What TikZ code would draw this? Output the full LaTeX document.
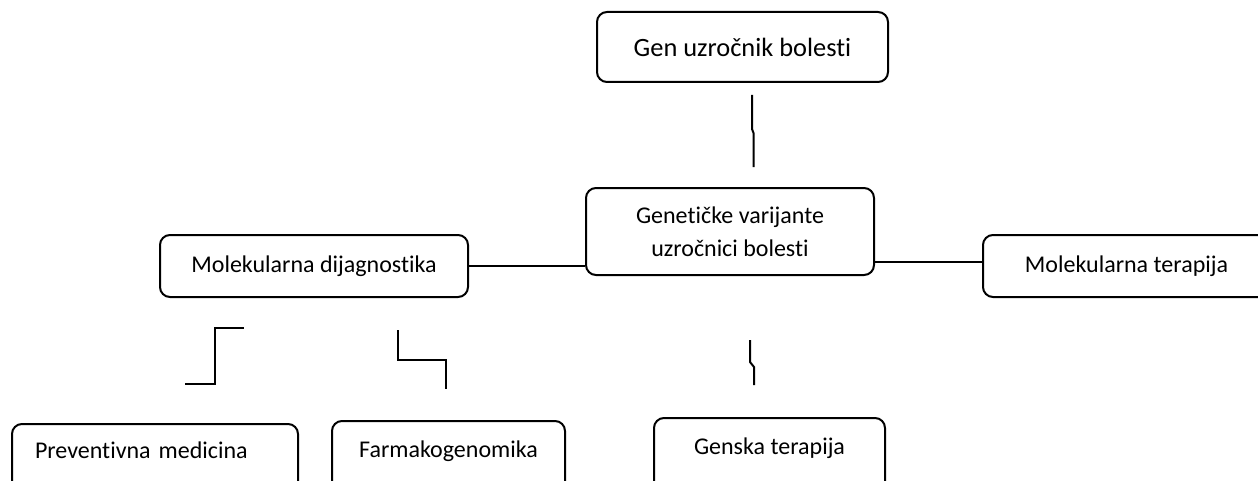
\documentclass[tikz,border=0pt]{standalone}
\usepackage{fontspec}
\setmainfont{Carlito}[Ligatures=NoCommon]

\begin{document}
\begin{tikzpicture}[x=0.5pt,y=-0.5pt,
  box/.style={draw, line width=1pt, rounded corners=5pt, inner sep=0pt, font=\fontsize{12}{16.5}\selectfont},
  lowbox/.style={box, anchor=north, text height=18pt, text depth=22pt}]
\useasboundingbox (0,0) rectangle (1258,481);
\clip (0,0) rectangle (1258,481);

\node[box, minimum width=145.5pt, minimum height=35pt, font=\fontsize{13.2}{16}\selectfont] (g) at (742.5,47) {Gen uzročnik bolesti};
\node[box, minimum width=144pt, minimum height=43.5pt, align=center] (v) at (730,231.5) {Genetičke varijante\\uzročnici bolesti};
\node[box, minimum width=154pt, minimum height=31pt] (d) at (314,266) {Molekularna dijagnostika};
\node[box, minimum width=143.5pt, minimum height=31pt] (t) at (1126.5,266) {Molekularna terapija};

\node[lowbox, inner xsep=11.5pt, text width=120pt, align=left, text height=17pt, text depth=23pt] (p) at (155,423) {Preventivna medicina};
\node[lowbox, minimum width=116.5pt] (f) at (448.5,420) {Farmakogenomika};
\node[lowbox, minimum width=115.5pt] (s) at (769.5,417) {Genska terapija};

% free ends
\coordinate (g1) at (752,95);
\coordinate (g2) at (753.5,167);
\coordinate (p1) at (185,384);
\coordinate (p2) at (244,328);
\coordinate (f1) at (398,330);
\coordinate (f2) at (446,389);
\coordinate (s1) at (750,340);
\coordinate (s2) at (754,385);

\draw[line width=1pt] (g1) -- ++(0,34) -- ++(1.5,4) -- (g2);
\draw[line width=1pt] (d.east) -- (d.east -| v.west);
\draw[line width=1pt] ([yshift=2pt]t.west -| v.east) -- ([yshift=2pt]t.west);
\draw[line width=1pt] (p1) -- ++(30,0) |- (p2);
\draw[line width=1pt] (f1) -- ++(0,30) -| (f2);
\draw[line width=1pt] (s1) -- ++(0,22) -- ++(4,5) -- (s2);
\end{tikzpicture}
\end{document}
